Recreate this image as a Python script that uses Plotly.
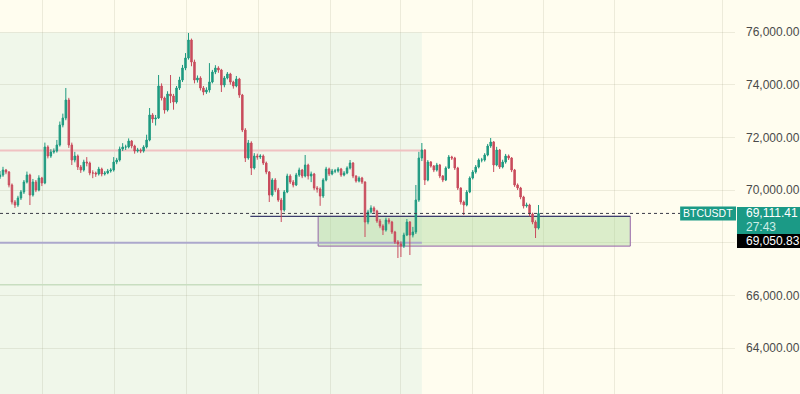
import plotly.graph_objects as go

# ---------------- data (BTCUSDT candles) ----------------
close = [
    70570, 70760, 70684, 70191, 69545, 69431, 69697, 69925, 70304, 70570,
    69811, 70304, 70001, 70456, 70267, 71633, 71292, 71443, 71481, 71709,
    72469, 72734, 73418, 71709, 71140, 71292, 70874, 70760, 71064, 71026,
    70646, 70646, 70608, 70798, 70608, 70646, 70722, 70760, 71064, 71140,
    71557, 71633, 71633, 71861, 71671, 71481, 71519, 71481, 71633, 71899,
    72849, 72697, 72734, 73950, 73494, 73038, 73646, 73570, 73342, 73874,
    74177, 74633, 75013, 75696, 74861, 74177, 74253, 73874, 73722, 73798,
    74102, 74481, 74633, 74557, 73988, 74253, 74405, 74102, 73950, 74215,
    73608, 72279, 71216, 71785, 70836, 71292, 71254, 71292, 71026, 70684,
    69811, 70380, 70001, 69621, 69241, 69925, 70532, 70304, 70191, 70570,
    70760, 70532, 70950, 70532, 70608, 70077, 70039, 69773, 70380, 70798,
    70608, 70722, 70722, 70798, 70570, 70646, 70836, 71026, 70532, 70342,
    70456, 70304, 68785, 69165, 69317, 69203, 68823, 68633, 68481, 68861,
    68785, 68405, 68026, 67950, 67874, 68292, 68785, 68292, 68405, 69621,
    71216, 71519, 70380, 71064, 70912, 70760, 70950, 70532, 70380, 70836,
    71254, 71216, 70836, 70077, 69545, 69431, 69925, 70456, 70684, 70874,
    71140, 71140, 71330, 71671, 71823, 70950, 71519, 70874, 71064, 71292,
    71216, 70760, 70191, 70077, 69735, 69393, 69431, 69089, 68785, 68557,
    69111.41,
]
high = [
    70720, 70880, 70800, 70720, 70250, 69620, 69780, 70000, 70380, 70700,
    70620, 70420, 70380, 70560, 70500, 71800, 71700, 71550, 71580, 71900,
    72600, 72900, 73874, 73500, 71800, 71450, 71350, 70950, 71150, 71250,
    71080, 70750, 70700, 70880, 70850, 70720, 70800, 70830, 71250, 71220,
    71650, 71780, 71720, 71960, 71900, 71720, 71600, 71580, 71700, 72100,
    73114, 72920, 72850, 74367, 74050, 73550, 73750, 74367, 73650, 73950,
    74300, 74750, 75200, 75962, 75750, 74950, 74350, 74320, 73950, 73900,
    74820, 74560, 74740, 74700, 74600, 74330, 74480, 74450, 74150, 74330,
    74260, 73650, 72350, 71900, 71850, 71400, 71380, 71360, 71350, 71080,
    70720, 70450, 70450, 70080, 69700, 70000, 70620, 70600, 70380, 70650,
    70850, 70800, 71330, 71000, 70700, 70650, 70150, 70100, 70450, 70880,
    70850, 70800, 70800, 70870, 70840, 70720, 70900, 71140, 71060, 70560,
    70520, 70500, 70330, 69250, 69420, 69380, 69250, 68900, 68700, 68950,
    68940, 68830, 68450, 68100, 68050, 68380, 68900, 68820, 68600, 70191,
    71450, 71785, 71550, 71140, 71100, 70950, 71030, 70990, 70570, 70900,
    71330, 71300, 71260, 70880, 70100, 69600, 70000, 70520, 70760, 70950,
    71200, 71220, 71400, 71750, 71975, 71860, 71640, 71560, 71150, 71370,
    71350, 71250, 70800, 70250, 70120, 69780, 69520, 69480, 69140, 68850,
    69431,
]
low = [
    70420, 70500, 70600, 70100, 69450, 69320, 69360, 69620, 69850, 70250,
    69430, 69750, 69920, 69950, 70150, 70220, 71200, 71220, 71380, 71420,
    71650, 72380, 72650, 71600, 70950, 71050, 70760, 70650, 70700, 70900,
    70560, 70450, 70500, 70550, 70520, 70550, 70600, 70660, 70700, 70980,
    71080, 71480, 71520, 71580, 71580, 71380, 71420, 71400, 71420, 71580,
    71850, 72550, 72450, 72700, 73400, 72900, 72980, 73300, 73050, 73280,
    73800, 74100, 74550, 74950, 74700, 74050, 74080, 73780, 73600, 73650,
    73700, 74050, 74400, 74450, 73722, 73900, 74200, 74000, 73850, 73900,
    73500, 72200, 71064, 71150, 70570, 70780, 71150, 71180, 70950, 70600,
    69545, 69750, 69920, 69550, 68785, 69180, 69880, 70230, 70100, 70150,
    70500, 70450, 70480, 70400, 70300, 69990, 69900, 69400, 69700, 70330,
    70530, 70560, 70640, 70660, 70500, 70520, 70600, 70780, 70450, 70280,
    70290, 70230, 68216, 68700, 69100, 69100, 68750, 68550, 68292, 68420,
    68700, 68330, 67950, 67418, 67456, 67800, 68250, 67532, 68200, 68330,
    69550, 71100, 70191, 70330, 70850, 70680, 70700, 70450, 70300, 70340,
    70800, 71140, 70760, 70000, 69450, 69051, 69380, 69880, 70400, 70620,
    70820, 71050, 71080, 71280, 71600, 70684, 70900, 70800, 70820, 71000,
    71140, 70680, 70120, 70000, 69650, 69300, 69330, 69000, 68700, 68178,
    68500,
]
first_open = 70500
open_ = [first_open] + close[:-1]
candle_index = list(range(len(close)))

y_ticks = [64000, 66000, 68000, 70000, 72000, 74000, 76000]
# the 68,000.00 label is hidden behind the price labels in the reference
hidden_ticks = [68000]
y_tick_labels = ["" if v in hidden_ticks else f"{v:,.2f}" for v in y_ticks]

symbol = "BTCUSDT"
last_price = 69111.41
countdown = "27:43"
other_price = 69050.83

# drawing levels
resistance = 71500
support = 68000
lower_level = 66400
zone_top = 69000
zone_bottom = 67870
shade_top = 75980

# ---------------- layout helpers ----------------
W, H = 800, 394
PLOT_R = 737                      # right edge of plot area in px
Y_MIN, Y_MAX = 62255, 77215
X_MAX = PLOT_R / 3.0              # 3 px per candle
PX_Y = (Y_MAX - Y_MIN) / H

def px_x(p):                       # pixel -> x data coordinate
    return p / 3.0

def px_paper(p):
    return p / PLOT_R

grid_x = [px_x(p) for p in (43, 115, 187, 259, 331, 402, 474, 545, 616, 724)]

UP = "#1f9a80"
DOWN = "#c94c5d"
TEAL = "#1b9a86"
BG = "#fffdef"
SHADE = "#f0f7ea"
GRID = "rgba(140,140,110,0.16)"
FONT = "Liberation Sans, Arial, sans-serif"

fig = go.Figure()
fig.add_trace(go.Candlestick(
    x=candle_index, open=open_, high=high, low=low, close=close,
    increasing=dict(line=dict(color=UP, width=1), fillcolor=UP),
    decreasing=dict(line=dict(color=DOWN, width=1), fillcolor=DOWN),
    whiskerwidth=0, hoverinfo="skip",
))

shapes = []
# shaded region (back-test area)
shapes.append(dict(type="rect", xref="x", yref="y", x0=-5, x1=px_x(423),
                   y0=Y_MIN - 2000, y1=shade_top, fillcolor=SHADE,
                   line=dict(width=0), layer="below"))
# zone box
shapes.append(dict(type="rect", xref="x", yref="y", x0=px_x(319), x1=px_x(632),
                   y0=zone_bottom, y1=zone_top, fillcolor="rgba(170,215,150,0.42)",
                   line=dict(color="#9563a8", width=1), layer="between"))
# horizontal levels
shapes.append(dict(type="line", xref="x", yref="y", x0=-5, x1=px_x(423),
                   y0=resistance, y1=resistance,
                   line=dict(color="#f0c2c2", width=2), layer="between"))
shapes.append(dict(type="line", xref="x", yref="y", x0=-5, x1=px_x(423),
                   y0=support, y1=support,
                   line=dict(color="#aca8cc", width=2), layer="between"))
shapes.append(dict(type="line", xref="x", yref="y", x0=-5, x1=px_x(423),
                   y0=lower_level, y1=lower_level,
                   line=dict(color="#c8dec0", width=1.5), layer="between"))
shapes.append(dict(type="line", xref="x", yref="y", x0=px_x(251), x1=px_x(632),
                   y0=zone_top, y1=zone_top,
                   line=dict(color="#3d3f6e", width=1.3), layer="between"))
# last price dotted line
shapes.append(dict(type="line", xref="paper", yref="y", x0=0, x1=px_paper(682),
                   y0=last_price, y1=last_price,
                   line=dict(color="#3a3a48", width=1, dash="dot"), layer="above"))
# labels backgrounds
shapes.append(dict(type="rect", xref="paper", yref="y",
                   x0=px_paper(682), x1=px_paper(738),
                   y0=last_price - 7 * PX_Y, y1=last_price + 7 * PX_Y,
                   fillcolor=TEAL, line=dict(width=0), layer="above"))
shapes.append(dict(type="rect", xref="paper", yref="y",
                   x0=px_paper(739), x1=px_paper(820),
                   y0=last_price - 20.5 * PX_Y, y1=last_price + 6.5 * PX_Y,
                   fillcolor=TEAL, line=dict(width=0), layer="above"))
shapes.append(dict(type="rect", xref="paper", yref="y",
                   x0=px_paper(739), x1=px_paper(820),
                   y0=last_price - 34.5 * PX_Y, y1=last_price - 20.5 * PX_Y,
                   fillcolor="#000000", line=dict(width=0), layer="above"))

annotations = [
    dict(xref="paper", yref="y", x=px_paper(710), y=last_price, text=symbol,
         showarrow=False, xanchor="center", yanchor="middle",
         font=dict(family=FONT, size=10.5, color="#ffffff")),
    dict(xref="paper", yref="y", x=px_paper(746), y=last_price, text=f"{last_price:,.2f}",
         showarrow=False, xanchor="left", yanchor="middle",
         font=dict(family=FONT, size=12, color="#ffffff")),
    dict(xref="paper", yref="y", x=px_paper(746), y=last_price - 14 * PX_Y, text=countdown,
         showarrow=False, xanchor="left", yanchor="middle",
         font=dict(family=FONT, size=12, color="#cdeee6")),
    dict(xref="paper", yref="y", x=px_paper(746), y=last_price - 27.5 * PX_Y,
         text=f"{other_price:,.2f}",
         showarrow=False, xanchor="left", yanchor="middle",
         font=dict(family=FONT, size=12, color="#ffffff")),
]

fig.update_layout(
    width=W, height=H,
    margin=dict(l=0, r=W - PLOT_R, t=0, b=0),
    paper_bgcolor=BG, plot_bgcolor=BG,
    showlegend=False,
    shapes=shapes, annotations=annotations,
    font=dict(family=FONT, size=12, color="#4a4a4a"),
    xaxis=dict(range=[0, X_MAX], rangeslider=dict(visible=False),
               tickmode="array", tickvals=grid_x, showticklabels=False,
               showgrid=True, gridcolor=GRID, gridwidth=1, zeroline=False,
               showline=False, fixedrange=True),
    yaxis=dict(range=[Y_MIN, Y_MAX], side="right",
               tickmode="array", tickvals=y_ticks, ticktext=y_tick_labels,
               showgrid=True, gridcolor=GRID, gridwidth=1, zeroline=False,
               showline=False, ticks="", ticklabelstandoff=10,
               tickfont=dict(family=FONT, size=12, color="#4a4a4a")),
)

fig.write_html("out.html")
